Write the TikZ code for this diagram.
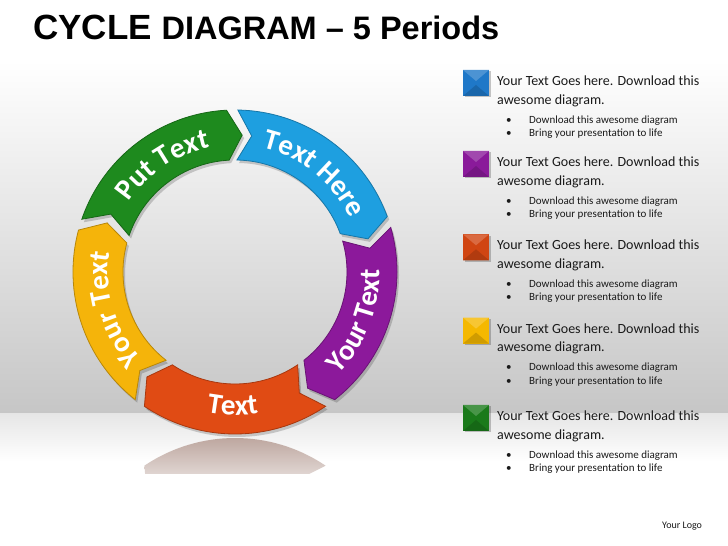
\documentclass[tikz,border=0pt]{standalone}
\usepackage{fontspec}
\setmainfont{Carlito}
\newfontfamily\titlefont{Liberation Sans}
\usetikzlibrary{decorations.text}
\definecolor{cgreen}{HTML}{1E8A1E}
\definecolor{ccyan}{HTML}{1E9FE0}
\definecolor{cpurple}{HTML}{8C199B}
\definecolor{corange}{HTML}{E04B14}
\definecolor{cyellow}{HTML}{F5B40A}
\definecolor{sqblue}{HTML}{1F78C8}
\definecolor{sqpurple}{HTML}{8A1A9A}
\definecolor{sqorange}{HTML}{D04512}
\definecolor{sqyellow}{HTML}{F5B800}
\definecolor{sqgreen}{HTML}{1A7A1A}
\definecolor{bgmid}{HTML}{EDEDED}
\definecolor{bgdark}{HTML}{C6C6C6}
\definecolor{floortop}{HTML}{E6E6E6}
\definecolor{refl}{HTML}{A88A80}
\definecolor{bodytext}{HTML}{1A1A1A}
\def\segRo{162}
\def\segRi{112}
\def\segRm{137}
\newcommand\segment[3]{%
  \fill[black,opacity=.18,shift={(2,-3)}] (#1:\segRo) -- ({#1-6}:\segRm) -- (#1:\segRi) arc[start angle=#1, end angle=#2, radius=\segRi] -- ({#2-6}:\segRm) -- (#2:\segRo) arc[start angle=#2, end angle=#1, radius=\segRo] -- cycle;
  \fill[#3, draw=#3!75!black, line width=.8pt] (#1:\segRo) -- ({#1-6}:\segRm) -- (#1:\segRi) arc[start angle=#1, end angle=#2, radius=\segRi] -- ({#2-6}:\segRm) -- (#2:\segRo) arc[start angle=#2, end angle=#1, radius=\segRo] -- cycle;}
\newcommand\segfont{\fontsize{29}{29}\selectfont\bfseries}
\newcommand\segtextcw[3]{%
  \path[decorate, decoration={text along path, text align=center, text color=white, text={|\segfont|#3}}] ({#1+45}:#2) arc[start angle=#1+45, end angle=#1-45, radius=#2];}
\newcommand\segtextccw[3]{%
  \path[decorate, decoration={text along path, text align=center, text color=white, text={|\segfont|#3}}] ({#1-45}:#2) arc[start angle=#1-45, end angle=#1+45, radius=#2];}
\newcommand\infogroup[3]{%
  \fill[black,opacity=.22] (464.5,{546-#1+15.7-1.5}) rectangle ++(26,-26);
  \fill[#2] (463,{546-#1+15.7}) rectangle ++(26,-26);
  \fill[#2!80!white] (463,{546-#1+15.7}) -- ++(26,0) -- ++(-13,-11) -- cycle;
  \fill[#2!85!black] (463,{546-#1+15.7-26}) -- ++(26,0) -- ++(-13,11) -- cycle;
  \node[hdr] (#3a) at (497,{546-#1}) {Your Text Goes here. Download this};
  \node[hdr] (#3b) at (497,{546-#1-18.5}) {awesome diagram.};
  \node[bul] (#3c) at (506,{546-#1-37.5}) {•};
  \node[bul] (#3d) at (529,{546-#1-37.5}) {Download this awesome diagram};
  \node[bul] (#3e) at (506,{546-#1-51}) {•};
  \node[bul] (#3f) at (529,{546-#1-51}) {Bring your presentation to life};}
\begin{document}
\begin{tikzpicture}[x=1pt,y=1pt,
  hdr/.style={anchor=base west, inner sep=0pt, text=bodytext, font=\fontsize{14}{16}\selectfont},
  bul/.style={anchor=base west, inner sep=0pt, text=bodytext, font=\fontsize{11}{13}\selectfont}]
\useasboundingbox (0,0) rectangle (728,546);
% background
\fill[white] (0,0) rectangle (728,546);
\shade[top color=white, middle color=bgmid, bottom color=bgdark] (0,486) rectangle (728,132);
\shade[top color=floortop, bottom color=white] (0,132) rectangle (728,85);
% reflection
\begin{scope}
\clip (0,72) rectangle (728,132);
\begin{scope}[shift={(235,-54)}]
\shade[top color=refl!85!white, middle color=white, bottom color=white] (56:162) -- (62:137) -- (56:112) arc[start angle=56, end angle=124, radius=112] -- (130:137) -- (124:162) arc[start angle=124, end angle=56, radius=162] -- cycle;
\end{scope}
\end{scope}
% title
\node[anchor=base west, inner sep=0pt, font=\titlefont\bfseries] (title) at (33,506) {\fontsize{35}{35}\selectfont CYCLE {\fontsize{32.5}{32.5}\selectfont DIAGRAM – 5 Periods}};
% ring
\begin{scope}[shift={(235,274)}]
\segment{161}{93}{cgreen}
\segment{89}{20}{ccyan}
\segment{16}{-52}{cpurple}
\segment{-56}{-124}{corange}
\segment{232}{165}{cyellow}
\segtextcw{124}{127}{Put Text}
\segtextcw{51}{127}{Text Here}
\segtextccw{-22}{145}{Your Text}
\segtextccw{-91}{143}{Text}
\segtextcw{197}{127}{Your Text}
\end{scope}
% right list
\infogroup{85.7}{sqblue}{g1}
\infogroup{166.7}{sqpurple}{g2}
\infogroup{250}{sqorange}{g3}
\infogroup{333.3}{sqyellow}{g4}
\infogroup{420.7}{sqgreen}{g5}
\node[anchor=base west, inner sep=0pt, text=bodytext, font=\fontsize{10}{12}\selectfont] (logo) at (662,17) {Your Logo};
\end{tikzpicture}
\end{document}
